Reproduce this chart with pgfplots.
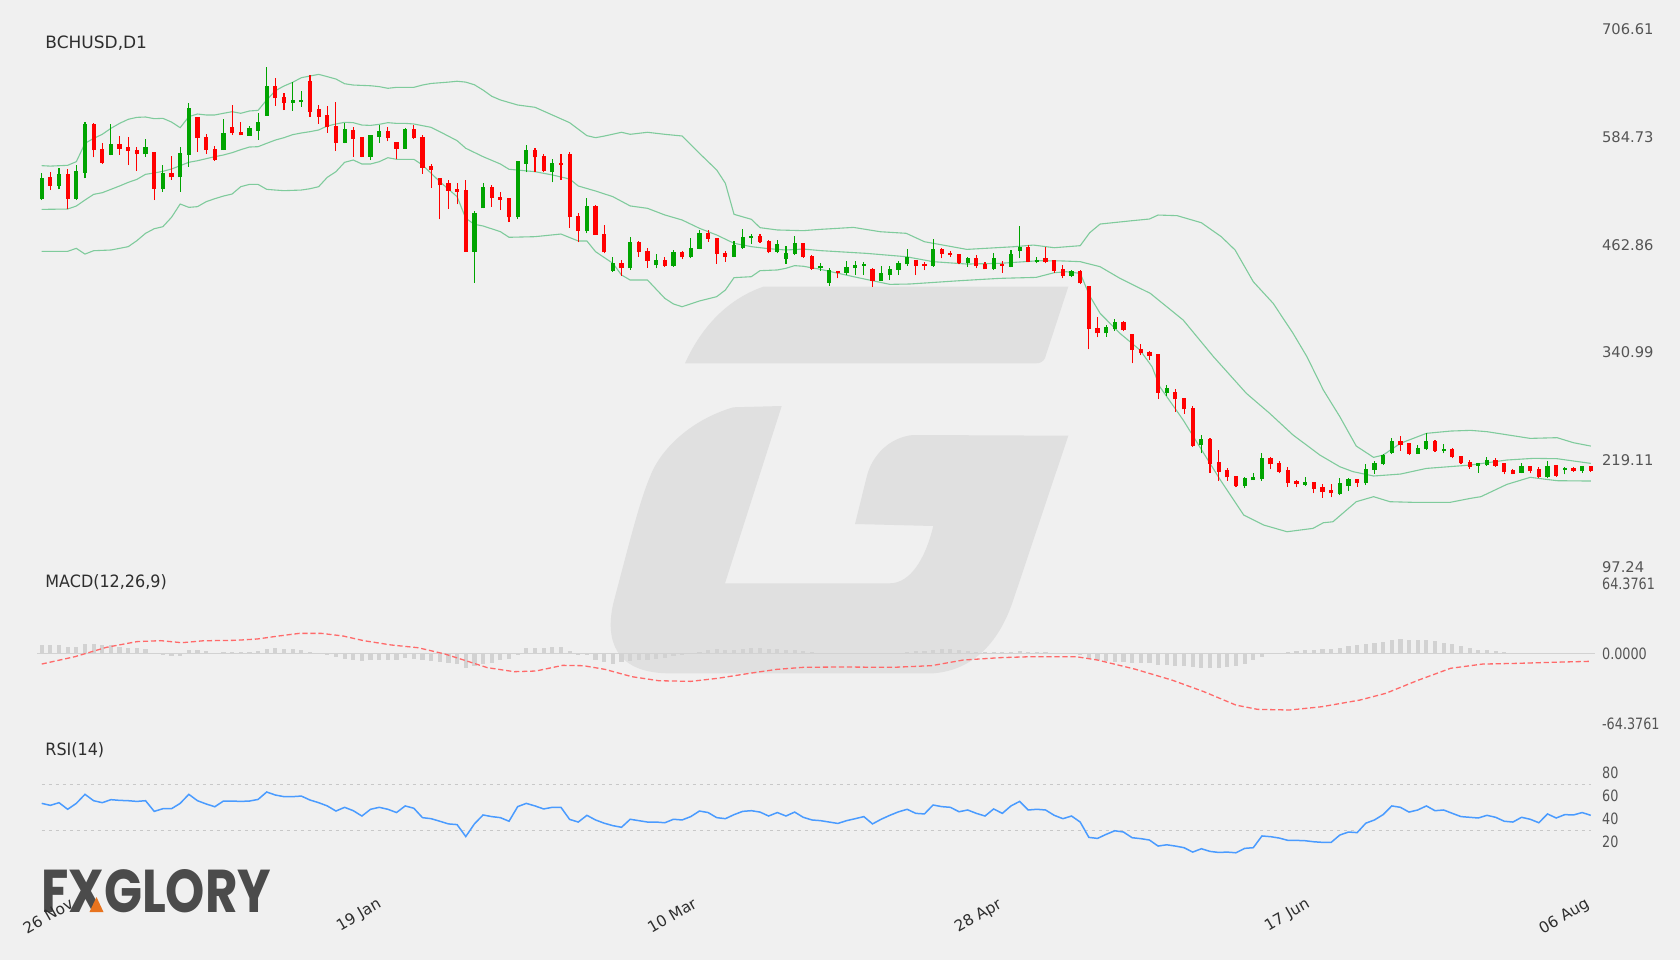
\documentclass[border=0pt]{standalone}
\usepackage{fontspec}
\setmainfont{DejaVu Sans}
\newfontfamily\condfont{DejaVu Sans}[FakeStretch=0.82]
\newfontfamily\titlefont{DejaVu Sans}[FakeStretch=0.94]
\newfontfamily\logofont{Poppins}
\usepackage{pgfplots}
\usepackage{pgfplotstable}
\pgfplotsset{compat=1.18}
\definecolor{bgc}{HTML}{F0F0F0}
\definecolor{wm}{HTML}{E0E0E0}
\definecolor{cgreen}{HTML}{00A400}
\definecolor{cred}{HTML}{FF0000}
\definecolor{band}{HTML}{7FCB9C}
\definecolor{histc}{HTML}{D2D2D2}
\definecolor{sig}{HTML}{FF6A6A}
\definecolor{rsic}{HTML}{4A9BFF}
\definecolor{refc}{HTML}{C8C8C8}
\definecolor{tickc}{HTML}{555555}
\definecolor{labc}{HTML}{2E2E2E}
\definecolor{logoc}{HTML}{4B4B4B}
\definecolor{logoo}{HTML}{E8731E}

\pgfplotstableread{
i o h l c
0 514.3 543.7 513.5 538.8
2 529.4 549.4 525.6 543.3
4 514.6 553.1 513.5 546.7
5 544.5 601.5 538.0 599.6
8 564.5 599.6 564.1 576.5
12 565.2 582.6 562.6 573.5
14 526.3 553.1 522.6 544.1
16 539.2 573.9 522.6 566.4
17 564.5 623.0 551.3 618.1
21 570.1 605.2 570.1 589.4
24 586.4 597.3 586.4 595.4
25 591.6 612.4 581.5 601.5
26 609.0 664.5 609.0 642.6
29 623.7 647.5 614.7 626.4
30 624.5 636.9 619.2 627.1
35 578.4 601.1 577.7 594.3
38 562.6 587.1 558.8 587.1
39 585.2 598.4 578.4 591.2
42 571.6 595.4 571.6 593.5
50 455.0 501.1 420.0 499.2
51 504.1 532.4 504.1 527.9
55 493.9 558.1 492.0 558.1
56 554.7 575.8 544.9 569.8
59 545.6 559.6 533.6 555.1
63 478.4 515.4 475.8 507.1
66 433.5 449.4 432.4 441.8
68 436.2 472.0 434.3 465.6
71 439.6 452.0 436.2 445.2
73 438.8 456.9 438.0 454.7
75 448.6 470.1 447.5 459.2
76 458.4 479.6 457.6 476.5
80 449.4 467.1 448.6 462.6
81 458.8 480.3 458.0 471.6
82 470.7 474.7 463.7 472.8
85 455.0 468.3 453.1 463.3
86 446.7 461.8 441.1 453.2
87 452.4 472.8 451.2 464.5
90 436.1 441.8 433.1 438.4
91 419.9 436.1 416.5 434.2
93 430.5 444.4 428.6 437.6
94 436.1 444.8 428.6 440.3
95 438.8 443.3 428.6 441.4
97 422.2 439.1 422.2 430.5
98 428.6 439.1 422.9 435.4
99 434.2 444.4 428.6 442.5
100 440.6 457.6 439.1 449.0
103 438.8 469.0 438.0 457.6
107 441.8 449.3 438.0 447.4
110 435.0 453.1 434.2 447.4
112 438.0 456.9 437.3 452.3
113 455.6 484.1 447.4 460.6
115 443.5 449.3 441.8 445.6
119 427.4 434.2 425.9 433.1
123 362.5 371.5 358.8 369.3
124 367.0 378.8 365.1 375.0
130 295.3 304.0 292.0 301.0
134 236.1 247.4 226.6 242.9
139 189.6 200.2 187.0 198.3
140 196.4 204.7 196.4 199.9
141 197.2 226.6 195.7 221.0
146 190.8 199.8 189.6 194.2
150 180.6 198.3 179.4 193.0
151 189.6 198.3 184.0 197.6
153 192.7 214.2 190.8 208.9
154 207.8 218.0 203.2 215.3
155 214.2 225.9 213.4 224.7
156 226.6 244.4 225.9 240.6
159 226.3 235.7 225.9 232.3
160 231.1 249.3 230.4 240.6
162 229.6 236.8 226.6 231.5
166 212.7 215.7 204.8 215.7
167 213.1 222.1 212.4 219.1
171 204.8 215.3 204.0 211.9
174 199.5 218.0 198.3 212.7
176 207.8 210.8 202.9 210.0
178 207.0 212.7 204.8 211.9
}\greenc

\pgfplotstableread{
i o h l c
1 539.5 544.8 524.8 529.4
3 543.3 548.2 502.9 514.6
6 599.6 600.3 561.8 569.7
7 571.3 578.4 554.3 555.8
9 576.9 586.0 564.5 571.6
10 573.1 584.5 553.1 569.0
11 570.5 573.9 546.7 565.6
13 567.9 567.9 513.5 526.3
15 544.1 563.7 536.2 539.2
18 607.9 607.9 568.2 583.7
19 584.5 587.9 565.6 570.1
20 571.3 575.0 558.0 558.8
22 596.2 621.1 587.1 589.0
23 590.5 602.2 586.7 586.7
27 642.6 651.7 620.0 628.6
28 630.5 635.1 615.4 623.7
31 647.9 655.1 607.9 613.5
32 616.2 621.1 599.6 607.9
33 609.8 620.0 589.8 595.8
34 597.3 624.1 569.4 578.4
36 592.4 595.8 562.6 583.0
37 584.5 584.5 561.8 562.6
40 591.6 596.5 580.0 583.7
41 578.8 578.8 559.6 571.6
43 593.5 598.4 582.9 583.7
44 585.3 587.2 543.0 550.2
45 551.7 554.3 527.5 547.5
46 538.1 538.8 491.7 530.2
47 532.8 536.2 503.7 524.1
48 525.6 533.2 508.6 523.0
49 524.9 536.2 455.0 455.0
52 527.9 530.2 506.0 515.4
53 517.3 522.6 502.2 513.9
54 516.2 516.2 488.6 493.9
57 569.8 572.1 544.9 561.9
58 563.4 565.3 544.9 546.4
60 555.8 565.3 536.2 553.2
61 565.3 567.5 482.2 493.9
62 495.4 498.4 465.6 478.8
64 507.1 507.9 474.3 474.3
65 475.4 485.2 453.1 454.3
67 441.8 445.6 427.5 436.2
69 465.6 467.1 449.4 454.3
70 455.8 459.6 436.9 444.5
72 445.2 449.4 438.0 438.8
74 454.7 455.8 446.7 448.6
77 476.5 479.6 466.0 469.8
78 470.9 470.9 441.1 452.4
79 454.0 455.8 443.7 449.4
83 472.8 474.7 465.3 466.0
84 467.5 468.3 453.1 454.3
88 464.5 464.5 447.9 448.6
89 450.1 451.2 434.3 435.4
92 433.5 433.5 424.8 430.5
96 435.4 436.1 415.4 422.2
101 445.6 445.6 428.6 438.8
102 440.6 443.7 434.2 438.8
104 457.6 458.8 447.4 452.3
105 453.9 456.1 449.3 451.2
106 452.3 452.3 441.0 441.8
108 447.4 451.2 436.1 438.8
109 441.0 443.7 435.0 435.0
111 440.6 444.8 431.2 438.8
114 460.6 462.5 442.9 443.7
116 448.2 459.9 441.8 443.7
117 445.6 445.6 431.2 433.5
118 435.4 439.9 424.8 427.4
120 433.5 434.2 418.4 419.1
121 416.5 416.5 344.4 367.0
122 368.9 381.4 358.0 362.5
125 375.0 376.9 365.1 366.3
126 361.4 361.4 328.5 343.6
127 344.8 350.3 337.6 339.9
128 341.4 342.6 332.5 336.8
129 338.7 338.7 288.2 295.3
131 296.5 299.5 273.8 287.8
132 289.0 289.7 271.2 276.5
133 278.0 280.2 234.2 235.3
135 242.9 244.4 204.7 214.6
136 216.4 230.4 195.3 205.9
137 207.8 209.6 195.7 199.4
138 201.0 201.0 188.1 189.6
142 221.0 222.8 208.5 214.2
143 216.0 218.3 204.0 205.9
144 207.8 210.8 188.9 193.4
145 194.9 196.4 188.1 192.3
147 193.8 194.6 181.3 186.6
148 188.5 191.9 176.4 183.2
149 185.1 191.9 176.8 181.3
152 197.6 197.6 188.9 193.4
157 240.6 246.3 229.6 236.1
158 237.9 238.7 224.7 225.9
161 240.6 241.7 228.6 229.6
163 231.5 233.0 220.9 222.1
164 223.6 223.6 214.2 215.3
165 217.2 219.1 209.3 210.8
168 219.1 221.0 211.6 212.7
169 215.3 215.3 202.9 205.5
170 207.8 208.9 202.9 203.2
172 211.9 212.7 204.0 207.0
173 209.3 210.8 198.3 199.5
175 213.1 213.4 200.2 201.4
177 210.0 210.8 205.9 207.0
179 211.9 212.7 205.5 207.0
}\redc

\pgfplotstableread{
i v
0 552.4
1 551.9
3 552.8
4 556.9
5 577.7
6 583.3
7 587.9
8 594.7
9 600.3
10 604.9
11 607.1
12 607.5
13 605.6
14 606.0
15 601.8
16 595.4
17 607.9
18 610.9
19 609.8
20 609.8
21 611.7
22 613.5
23 611.7
24 614.3
25 615.0
26 626.8
27 637.3
28 642.6
29 646.8
30 652.0
31 653.9
32 655.8
33 653.2
34 650.5
35 645.2
36 643.7
37 643.3
38 642.9
39 641.9
40 640.0
41 641.1
43 641.1
44 643.7
45 645.5
47 647.0
48 648.0
49 647.0
50 644.0
51 638.0
52 631.0
53 626.8
55 621.1
57 618.5
59 609.8
61 601.1
63 586.4
64 584.1
65 585.9
67 590.2
68 587.9
70 590.2
72 587.9
74 586.0
76 566.4
78 547.5
79 532.4
80 497.3
82 491.7
83 482.2
85 479.6
88 478.8
90 480.3
93.8 482.5
96.9 477.6
99.9 475.8
102 466.3
106.9 457.6
112.3 460.6
114.6 462.5
117 459.5
120 461.8
121.1 476.5
122.3 486.3
126 490.1
128 492.0
129 496.5
131.2 495.8
134 487.8
136.3 472.0
137.9 456.9
140 421.0
142.3 396.5
144.6 362.5
146.2 336.1
148.1 298.3
150 268.2
151.9 234.9
153.9 222.1
155 224.7
157 238.0
160 249.3
162.8 251.9
165.1 252.7
167 251.2
172 243.6
175.1 244.4
177 238.7
179 234.9
}\bbup

\pgfplotstableread{
i v
0 502.9
3 503.3
4 506.7
5 513.5
6 519.9
7 521.8
8 525.6
9 529.4
10 533.5
11 536.9
12 542.6
13 544.1
14 546.0
15 548.6
16 552.4
17 556.2
18 558.0
19 560.3
20 562.6
21 564.5
22 567.1
23 570.5
24 573.5
25 573.9
26 577.7
27 581.4
28 584.1
29 587.5
30 589.4
31 590.9
32 592.8
33 597.3
34 599.6
35 601.5
36 601.1
37 598.4
38 598.0
39 599.2
40 601.1
41 600.3
42 600.3
43 599.6
45 595.8
46 590.9
48 580.7
49 572.1
51 562.6
53 554.3
54 548.3
57 545.6
59 541.9
61 537.3
62 529.4
64 523.7
66 517.3
68 506.8
70 504.1
72 496.6
74 490.9
76 481.5
78 473.9
80 464.5
82 460.7
84 458.4
86 456.9
88 458.0
90 456.2
95.3 453.1
99.9 449.3
103 443.7
106.9 441.0
110.7 441.8
115.3 444.8
118 444.5
120 443.7
122.3 438.0
124.6 424.8
128.1 407.8
131.9 377.6
135.4 336.1
139.2 294.6
141.9 271.9
144.6 247.4
147.7 224.7
150 211.5
151.5 206.0
153.9 201.0
157 203.2
160 209.6
165.1 213.4
169.3 219.1
172.4 221.0
175.1 220.6
177 218.0
179 215.3
}\bbmid

\pgfplotstableread{
i v
0 455.4
3 455.4
4 458.8
5 452.3
6 456.1
8 456.9
9 458.8
10 460.7
11 467.5
12 475.8
13 481.0
14 483.3
15 493.9
16 509.0
17 505.2
18 506.0
19 511.6
20 515.0
21 518.0
22 520.3
23 528.6
24 531.2
25 531.2
26 525.6
27 524.8
28 524.1
30 524.8
31 526.3
32 528.6
33 539.2
34 545.6
35 556.2
36 558.8
37 554.3
38 554.3
39 556.9
40 561.4
41 559.6
43 559.6
44 553.2
46 534.3
48 517.3
49 492.8
50 486.0
51 484.1
53 477.7
54 471.3
57 472.0
60 475.0
62 467.1
63 467.1
64 455.0
66 441.8
67 428.6
68 422.9
70 422.9
72 402.2
73 395.8
74 392.7
76 399.2
78 404.1
79 411.6
80 425.6
82 426.7
83 433.5
85 434.3
86 436.2
87 439.2
88 438.5
90 435.0
93.8 426.7
98 418.0
100.3 418.4
106 422.1
110.7 424.8
114.9 425.9
117 431.2
118.4 432.3
120 430.5
121.1 405.0
122.3 385.2
124.6 362.5
126.9 343.7
128.3 324.8
129.2 302.1
131.9 264.4
133.8 234.2
136.2 196.4
138.9 156.8
141.2 145.5
143.9 137.9
146.9 141.7
148.1 148.1
149.2 149.2
151.9 171.9
153.9 177.6
155.8 171.9
158.8 171.1
162.7 171.1
165.1 175.7
166.3 177.6
169.3 191.5
172 199.5
175.1 195.7
179 195.3
}\bblow

\pgfplotstableread{
i v
0 7.7
1 7.7
2 7.5
3 6.1
4 6.4
5 9.2
6 9.2
7 8.3
8 7.7
9 6.4
10 5.5
11 5.5
12 4.6
13 0.6
14 -1.2
15 -2.5
16 -2.1
17 3.0
18 3.0
19 2.1
20 0.3
21 1.5
22 1.5
23 1.5
24 1.8
25 2.5
26 4.6
27 5.2
28 4.6
29 4.6
30 3.1
31 1.5
32 0.6
33 -1.2
34 -3.4
35 -4.9
36 -5.5
37 -6.7
38 -6.1
39 -5.5
40 -5.5
41 -5.5
42 -3.7
43 -4.6
44 -5.5
45 -6.7
46 -7.7
47 -8.6
48 -9.2
49 -12.9
50 -11.0
51 -9.8
52 -8.6
53 -5.5
54 -4.9
55 -0.5
56 4.9
57 5.5
58 5.5
59 6.1
60 6.1
61 2.1
62 -1.5
63 -1.5
64 -6.0
65 -7.5
66 -10.0
67 -8.0
68 -6.7
69 -6.0
70 -6.0
71 -5.0
72 -4.0
73 -2.0
74 -0.6
75 0.5
76 1.5
77 3.7
78 4.0
79 3.4
80 3.4
81 4.0
82 5.2
83 5.5
84 4.6
85 4.3
86 3.7
87 3.7
88 2.5
89 1.5
90 0.9
91 0.5
92 0.3
93 0.3
94 0.3
95 0.3
96 0.3
97 0.3
98 0.3
99 0.6
100 1.5
101 2.1
102 2.5
103 3.4
104 4.0
105 4.0
106 3.4
107 2.5
108 1.5
109 1.2
110 1.5
111 1.8
112 1.5
113 2.5
114 1.8
115 1.5
116 1.5
117 0.6
118 0.3
119 0.0
120 -1.5
121 -3.7
122 -5.5
123 -6.7
124 -7.4
125 -7.7
126 -8.6
127 -8.6
128 -8.6
129 -10.4
130 -10.4
131 -11.3
132 -11.3
133 -12.3
134 -12.9
135 -13.2
136 -12.9
137 -12.3
138 -11.0
139 -9.2
140 -6.1
141 -3.4
142 0.3
143 0.9
144 1.5
145 2.1
146 3.4
147 3.7
148 4.0
149 4.6
150 5.5
151 6.7
152 7.7
153 8.6
154 9.8
155 11.0
156 12.3
157 13.2
158 12.9
159 12.6
160 12.3
161 11.3
162 9.8
163 8.6
164 6.7
165 4.9
166 3.7
167 3.1
168 2.1
169 1.5
170 0.9
171 0.6
172 0.9
173 0.6
174 0.3
175 0.6
176 0.9
177 0.9
178 0.9
179 0.9
}\histo

\pgfplotstableread{
i v
0 -9.6
3.85 -2.8
7.5 5.8
11 11.0
13.75 11.9
16.2 10.0
18.7 11.8
22.4 12.2
24.9 13.4
27.4 16.2
29.8 18.6
32.3 18.6
34.8 16.2
37.2 11.9
40.4 7.9
43.5 5.4
46.6 -0.4
49 -6.5
51.5 -12.9
54.6 -16.6
57.1 -16.0
60.2 -10.8
62.6 -11.1
65.1 -14.5
68.2 -21.2
71.3 -24.9
75 -25.5
78.1 -22.7
81.8 -18.1
84.9 -14.5
88 -12.6
92.2 -12.3
98.4 -12.6
102.8 -11.1
106.5 -5.9
110.8 -3.7
114.5 -2.8
119.5 -2.8
122 -5.9
126.3 -14.2
130.6 -24.3
134.3 -35.0
138 -47.3
140.5 -51.2
144.2 -51.8
147.9 -48.8
152.3 -42.7
155.3 -36.5
159.1 -24.3
162.8 -13.5
166.5 -9.6
170.2 -9.0
174.5 -8.0
178.9 -7.1
}\sigline

\pgfplotstableread{
i v
0 53.3
1 51.6
2 53.9
3 48.2
4 53.3
5 61.1
6 55.6
7 53.9
8 56.5
9 55.9
10 55.6
11 55.0
12 55.6
13 46.4
14 48.7
15 48.7
16 53.3
17 61.1
18 55.6
19 52.8
20 50.4
21 55.3
22 55.3
23 55.0
24 55.3
25 56.7
26 63.1
27 60.5
28 59.1
29 59.1
30 59.6
31 56.2
32 53.9
33 51.1
34 46.7
35 49.9
36 47.0
37 42.4
38 48.2
39 49.9
40 48.2
41 45.4
42 51.1
43 49.1
44 41.0
45 40.1
46 37.9
47 35.6
48 35.0
49 24.7
50 35.6
51 43.3
52 41.9
53 41.0
54 37.9
55 50.5
56 53.3
57 51.1
58 48.5
59 49.9
60 49.9
61 39.5
62 37.2
63 43.0
64 39.0
65 36.2
66 34.1
67 32.7
68 39.6
69 38.4
70 37.2
71 37.2
72 36.6
73 39.6
74 39.0
75 41.9
76 46.7
77 45.4
78 41.0
79 40.1
80 43.6
81 46.4
82 47.0
83 45.8
84 42.4
85 45.4
86 42.4
87 45.8
88 41.3
89 39.0
90 38.4
91 37.2
92 36.0
93 38.4
94 40.1
95 41.9
96 35.6
97 39.6
98 43.0
99 46.0
100 48.2
101 44.7
102 44.2
103 51.9
104 50.5
105 49.9
106 46.1
107 47.6
108 44.7
109 42.4
110 48.5
111 44.7
112 51.1
113 55.0
114 47.6
115 48.2
116 47.6
117 43.0
118 40.1
119 42.4
120 37.2
121 24.0
122 23.1
123 26.6
124 29.7
125 28.6
126 23.7
127 22.9
128 21.7
129 16.5
130 17.6
131 16.5
132 15.1
133 11.3
134 14.2
135 11.9
136 11.0
137 11.3
138 10.7
139 14.5
140 15.1
141 25.2
142 24.6
143 23.4
144 21.4
145 21.4
146 21.1
147 20.2
148 19.7
149 19.7
150 26.0
151 28.6
152 28.1
153 36.2
154 39.0
155 43.6
156 51.1
157 49.9
158 45.8
159 47.6
160 51.1
161 47.0
162 47.6
163 44.7
164 41.9
165 41.3
166 40.7
167 43.0
168 41.3
169 37.9
170 37.2
171 41.3
172 39.6
173 36.6
174 44.2
175 40.7
176 43.6
177 43.3
178 45.4
179 43.0
}\rsitab

\pgfplotsset{
  panel/.style={scale only axis, width=778.86pt, xmin=-0.5, xmax=179.5,
    axis line style={draw=none}, tick style={draw=none}, major tick length=0pt,
    clip=false, xtick=\empty, yticklabel pos=right, anchor=south west,
    yticklabel style={anchor=west, inner sep=0pt, xshift=3.3pt, text=tickc}},
  wick/.style={draw=none, mark=none, forget plot,
    error bars/.cd, y dir=plus, y explicit, error mark=none,
    error bar style={line width=0.55pt, draw=#1, solid}},
  body/.style={draw=none, mark=none, forget plot,
    error bars/.cd, y dir=plus, y explicit, error mark=none,
    error bar style={line width=2.1pt, draw=#1, solid}},
}

\begin{document}
\begin{tikzpicture}
\path[use as bounding box] (0,0) rectangle (840pt,480pt);
\fill[bgc] (0,0) rectangle (840pt,480pt);
\begin{scope}[x=0.5pt,y=-0.5pt,shift={(0pt,480pt)}]
  \fill[wm] (685,363.3) .. controls (700,330) and (725,300) .. (763.3,286.7) -- (1068.3,286.7) -- (1045,358) .. controls (1043,362) and (1040,363.3) .. (1036,363.3) -- cycle;
  \fill[wm] (781.7,406) -- (733.3,407.3) .. controls (690,420) and (660,450) .. (650,476.7) .. controls (640,500) and (630,540) .. (613.3,603.3) .. controls (605,640) and (615,672) .. (666.7,673.3) -- (933.3,673.3) .. controls (975,670) and (1000,640) .. (1013.3,600) -- (1068.3,435.7) -- (913.3,435) .. controls (890,437) and (872,455) .. (866.7,476.7) -- (855,524) -- (933.3,526) .. controls (925,560) and (910,583) .. (890,583.3) -- (725,583.3) -- cycle;
  \node[anchor=west, inner sep=0pt, text=labc] at (45,42.9) {\fontsize{8.5pt}{10pt}\selectfont BCHUSD,D1};
  \node[anchor=west, inner sep=0pt, text=labc] at (45,581.8) {\titlefont\fontsize{8.5pt}{10pt}\selectfont MACD(12,26,9)};
  \node[anchor=west, inner sep=0pt, text=labc] at (45,750) {\titlefont\fontsize{8.5pt}{10pt}\selectfont RSI(14)};
  \node[anchor=south west, inner sep=0pt, text=logoc] at (40.7,913) {\resizebox{115pt}{21.5pt}{\logofont\bfseries FXGLORY}};
  \fill[logoo] (96.5,897) -- (103.5,912) -- (89.5,912) -- cycle;
\end{scope}

\begin{axis}[panel, at={(18.69pt,192.98pt)}, height=278.2pt, ymin=90, ymax=720,
  ytick={97.24,219.11,340.99,462.86,584.73,706.61},
  yticklabels={97.24,219.11,340.99,462.86,584.73,706.61},
  yticklabel style={font=\fontsize{7.35pt}{8pt}\selectfont}]
  \addplot[band, line width=0.55pt] table[x=i,y=v] {\bbup};
  \addplot[band, line width=0.55pt] table[x=i,y=v] {\bbmid};
  \addplot[band, line width=0.55pt] table[x=i,y=v] {\bblow};
  \addplot[wick=cgreen] table[x=i, y=l, y error expr=\thisrow{h}-\thisrow{l}] {\greenc};
  \addplot[wick=cred] table[x=i, y=l, y error expr=\thisrow{h}-\thisrow{l}] {\redc};
  \addplot[body=cgreen] table[x=i, y=o, y error expr=\thisrow{c}-\thisrow{o}] {\greenc};
  \addplot[body=cred] table[x=i, y=c, y error expr=\thisrow{o}-\thisrow{c}] {\redc};
\end{axis}

\begin{axis}[panel, at={(18.69pt,118.15pt)}, height=70.1pt, ymin=-64.3761, ymax=64.3761,
  ytick={-64.3761,0,64.3761}, yticklabels={-64.3761,0.0000,64.3761},
  yticklabel style={font=\condfont\fontsize{7.8pt}{9pt}\selectfont}]
  \addplot[histc, line width=0.6pt] coordinates {(-0.5,0) (179.5,0)};
  \addplot[ycomb, histc, line width=2.1pt] table[x=i,y=v] {\histo};
  \addplot[sig, line width=0.65pt, dash pattern=on 2.6pt off 1.4pt] table[x=i,y=v] {\sigline};
\end{axis}

\begin{axis}[panel, at={(18.69pt,47.4pt)}, height=58pt, ymin=0, ymax=100,
  ytick={20,40,60,80}, yticklabels={20,40,60,80},
  yticklabel style={font=\condfont\fontsize{7.8pt}{9pt}\selectfont},
  xtick={3.85,39.4,75.9,111.1,146.7,179}, xticklabels={26 Nov,19 Jan,10 Mar,28 Apr,17 Jun,06 Aug},
  xticklabel style={rotate=30, anchor=north east, inner sep=0pt, xshift=-10.5pt, yshift=-12pt, text=labc, font=\fontsize{7.7pt}{9pt}\selectfont}]
  \addplot[refc, line width=0.5pt, dash pattern=on 1.5pt off 2pt] coordinates {(0,70) (179,70)};
  \addplot[refc, line width=0.5pt, dash pattern=on 1.5pt off 2pt] coordinates {(0,30) (179,30)};
  \addplot[rsic, line width=0.75pt] table[x=i,y=v] {\rsitab};
\end{axis}
\end{tikzpicture}
\end{document}
